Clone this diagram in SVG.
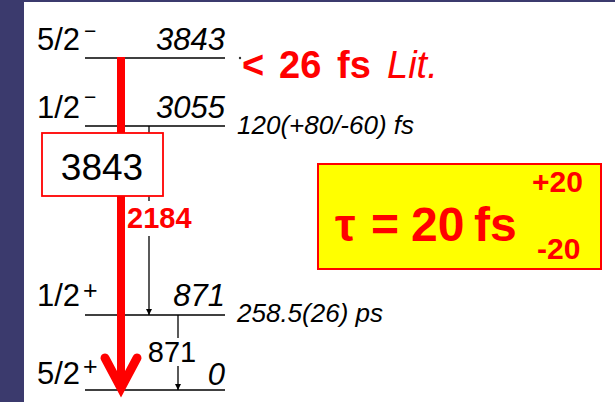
<svg xmlns="http://www.w3.org/2000/svg" width="615" height="402" viewBox="0 0 615 402">
<style>
.lvl{stroke:#000;stroke-width:1.5;fill:none}
.thin{stroke:#000;stroke-width:1.3;fill:none}
.t{font-family:"Liberation Sans",Arial,sans-serif;fill:#000}
.spin{font-size:31px}
.sup{font-size:21px}
.plus{font-size:25px}
.en{font-size:31px;font-style:italic;text-anchor:end}
.life{font-size:26px;font-style:italic}
.red{fill:#ff0000;font-family:"Liberation Sans",Arial,sans-serif;font-weight:bold}
</style>
<defs>
<marker id="ah" viewBox="0 0 10 10" refX="10" refY="5" markerWidth="6" markerHeight="11" markerUnits="userSpaceOnUse" orient="auto">
<path d="M0,0 L10,5 L0,10 z" fill="#000"/>
</marker>
</defs>
<rect x="0" y="0" width="615" height="402" fill="#3b3a6d"/>
<rect x="24" y="2" width="591" height="400" fill="#ffffff"/>

<g id="level-3843">
<line class="lvl" x1="85" y1="58" x2="225" y2="58"/>
<text class="t spin" x="37" y="50">5/2</text>
<text class="t sup" x="84" y="38">−</text>
<text class="t en" x="225" y="50">3843</text>
</g>
<g id="level-3055">
<line class="lvl" x1="85" y1="126" x2="225" y2="126"/>
<text class="t spin" x="37" y="118">1/2</text>
<text class="t sup" x="84" y="104">−</text>
<text class="t en" x="225" y="118">3055</text>
<text class="t life" x="237" y="134">120(+80/-60) fs</text>
</g>
<g id="level-871">
<line class="lvl" x1="85" y1="315" x2="225" y2="315"/>
<text class="t spin" x="37" y="306">1/2</text>
<text class="t plus" x="83" y="299">+</text>
<text class="t en" x="225" y="306">871</text>
<text class="t life" x="237" y="322">258.5(26) ps</text>
</g>
<g id="level-0">
<line class="lvl" x1="85" y1="390" x2="225" y2="390"/>
<text class="t spin" x="37" y="384">5/2</text>
<text class="t plus" x="83" y="375">+</text>
<text class="t en" x="225" y="385">0</text>
</g>

<g id="connectors">
<line class="thin" x1="149" y1="126" x2="149" y2="201"/>
<line class="thin" x1="149" y1="236" x2="149" y2="315" marker-end="url(#ah)"/>
<line class="thin" x1="178" y1="315" x2="178" y2="338"/>
<line class="thin" x1="178" y1="366" x2="178" y2="390" marker-end="url(#ah)"/>
<line x1="121" y1="57" x2="121" y2="386" stroke="#ff0000" stroke-width="8"/>
<polyline points="105,358 121,388 137,358" fill="none" stroke="#ff0000" stroke-width="9" stroke-linejoin="miter" stroke-linecap="round"/>
<text class="t" x="172" y="362" font-size="29" text-anchor="middle">871</text>
<text class="red" x="127" y="228" font-size="29">2184</text>
</g>

<g id="box-3843">
<rect x="42" y="133" width="121" height="63" fill="#ffffff" stroke="#ff0000" stroke-width="1.8"/>
<text class="t" x="102" y="180" font-size="37" text-anchor="middle">3843</text>
</g>

<g id="lit">
<circle cx="240" cy="58" r="1.2" fill="#333"/>
<text class="red" y="78" font-size="38"><tspan x="242">&lt;</tspan><tspan x="279">26</tspan><tspan x="337">fs</tspan><tspan x="387" font-weight="normal" font-style="italic">Lit.</tspan></text>
</g>

<g id="tau-box">
<rect x="318" y="164" width="283" height="105" fill="#ffff00" stroke="#ff0000" stroke-width="2"/>
<text class="red" y="241" font-size="48"><tspan x="335" font-size="46">τ</tspan><tspan x="371">=</tspan><tspan x="411">20</tspan><tspan x="474">fs</tspan></text>
<text class="red" x="532" y="192" font-size="30">+20</text>
<text class="red" x="537" y="259" font-size="30">-20</text>
</g>
</svg>
